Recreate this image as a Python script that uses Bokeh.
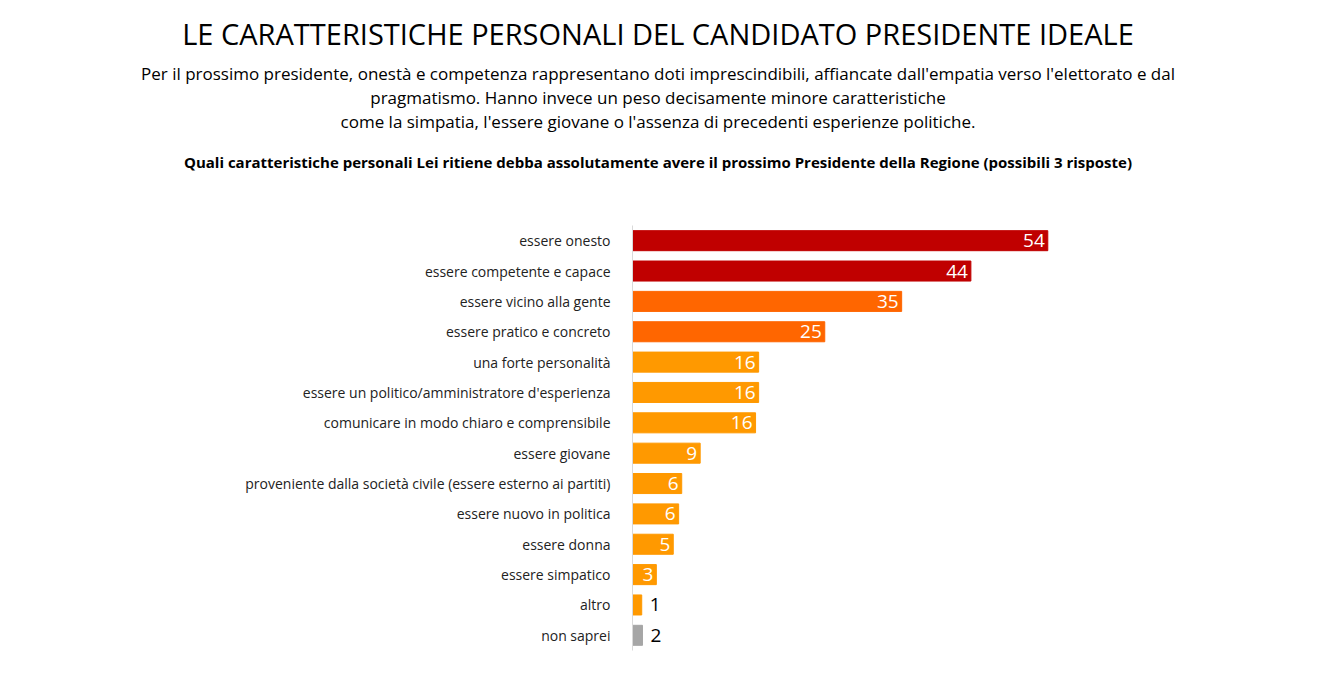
from bokeh.plotting import figure
from bokeh.models import ColumnDataSource, Div
from bokeh.layouts import column
from bokeh.core.properties import value
from bokeh.embed import file_html
from bokeh.resources import INLINE

title = "LE CARATTERISTICHE PERSONALI DEL CANDIDATO PRESIDENTE IDEALE"
subtitle_lines = ["Per il prossimo presidente, onestà e competenza rappresentano doti imprescindibili, affiancate dall'empatia verso l'elettorato e dal",
                  "pragmatismo. Hanno invece un peso decisamente minore caratteristiche",
                  "come la simpatia, l'essere giovane o l'assenza di precedenti esperienze politiche."]
question = "Quali caratteristiche personali Lei ritiene debba assolutamente avere il prossimo Presidente della Regione (possibili 3 risposte)"

categories = ["essere onesto", "essere competente e capace", "essere vicino alla gente",
              "essere pratico e concreto", "una forte personalità",
              "essere un politico/amministratore d'esperienza",
              "comunicare in modo chiaro e comprensibile", "essere giovane",
              "proveniente dalla società civile (essere esterno ai partiti)",
              "essere nuovo in politica", "essere donna", "essere simpatico", "altro", "non saprei"]
values = [54, 44, 35, 25, 16.4, 16.4, 16, 8.8, 6.4, 6, 5.3, 3.1, 1.2, 1.3]
labels = ["54", "44", "35", "25", "16", "16", "16", "9", "6", "6", "5", "3", "1", "2"]
colors = ["#C00000", "#C00000", "#FF6600", "#FF6600"] + ["#FF9900"] * 9 + ["#A6A6A6"]

W = 1316
DIV_H = 190
FIG_H = 479
p = figure(width=W, height=FIG_H, y_range=list(reversed(categories)), x_range=(0, 87.9),
           output_backend="svg", toolbar_location=None,
           min_border_left=632, min_border_right=8, min_border_top=35, min_border_bottom=19)
p.outline_line_color = None
p.grid.visible = False
p.xaxis.visible = False
p.yaxis.axis_line_color = "#D9D9D9"
p.yaxis.major_tick_line_color = None
p.yaxis.minor_tick_line_color = None
p.yaxis.major_label_text_font = "Open Sans"
p.yaxis.major_label_text_font_size = "14px"
p.yaxis.major_label_text_color = "#222222"
p.yaxis.major_label_standoff = 16

src = ColumnDataSource(dict(y=categories, v=values, c=colors, t=labels))
p.hbar(y="y", right="v", left=0, height=0.66, color="c", source=src)

inside = ColumnDataSource(dict(y=categories[:12], v=values[:12], t=labels[:12]))
outside = ColumnDataSource(dict(y=categories[12:], v=values[12:], t=labels[12:]))
p.text(x="v", y="y", text="t", source=inside, text_align="right", text_baseline="middle",
       x_offset=-3, text_color="white", text_font=value("Open Sans"), text_font_size="19px")
p.text(x="v", y="y", text="t", source=outside, text_align="left", text_baseline="middle",
       x_offset=8, text_color="black", text_font=value("Open Sans"), text_font_size="19px")

html = (
    f'<div style="width:{W}px;text-align:center;font-family:\'Open Sans\';color:black;padding-top:14px;">'
    f'<div style="font-size:29px;line-height:40px;">{title}</div>'
    f'<div style="font-size:17px;line-height:24px;margin-top:8px;">' + "<br>".join(subtitle_lines) + '</div>'
    f'<div style="font-size:15px;line-height:22px;margin-top:17px;font-weight:bold;">{question}</div>'
    '</div>'
)
div = Div(text=html, width=W, height=DIV_H, margin=0)
p.margin = 0
layout = column(div, p, spacing=0)

open("out.html", "w").write(file_html(layout, INLINE))
